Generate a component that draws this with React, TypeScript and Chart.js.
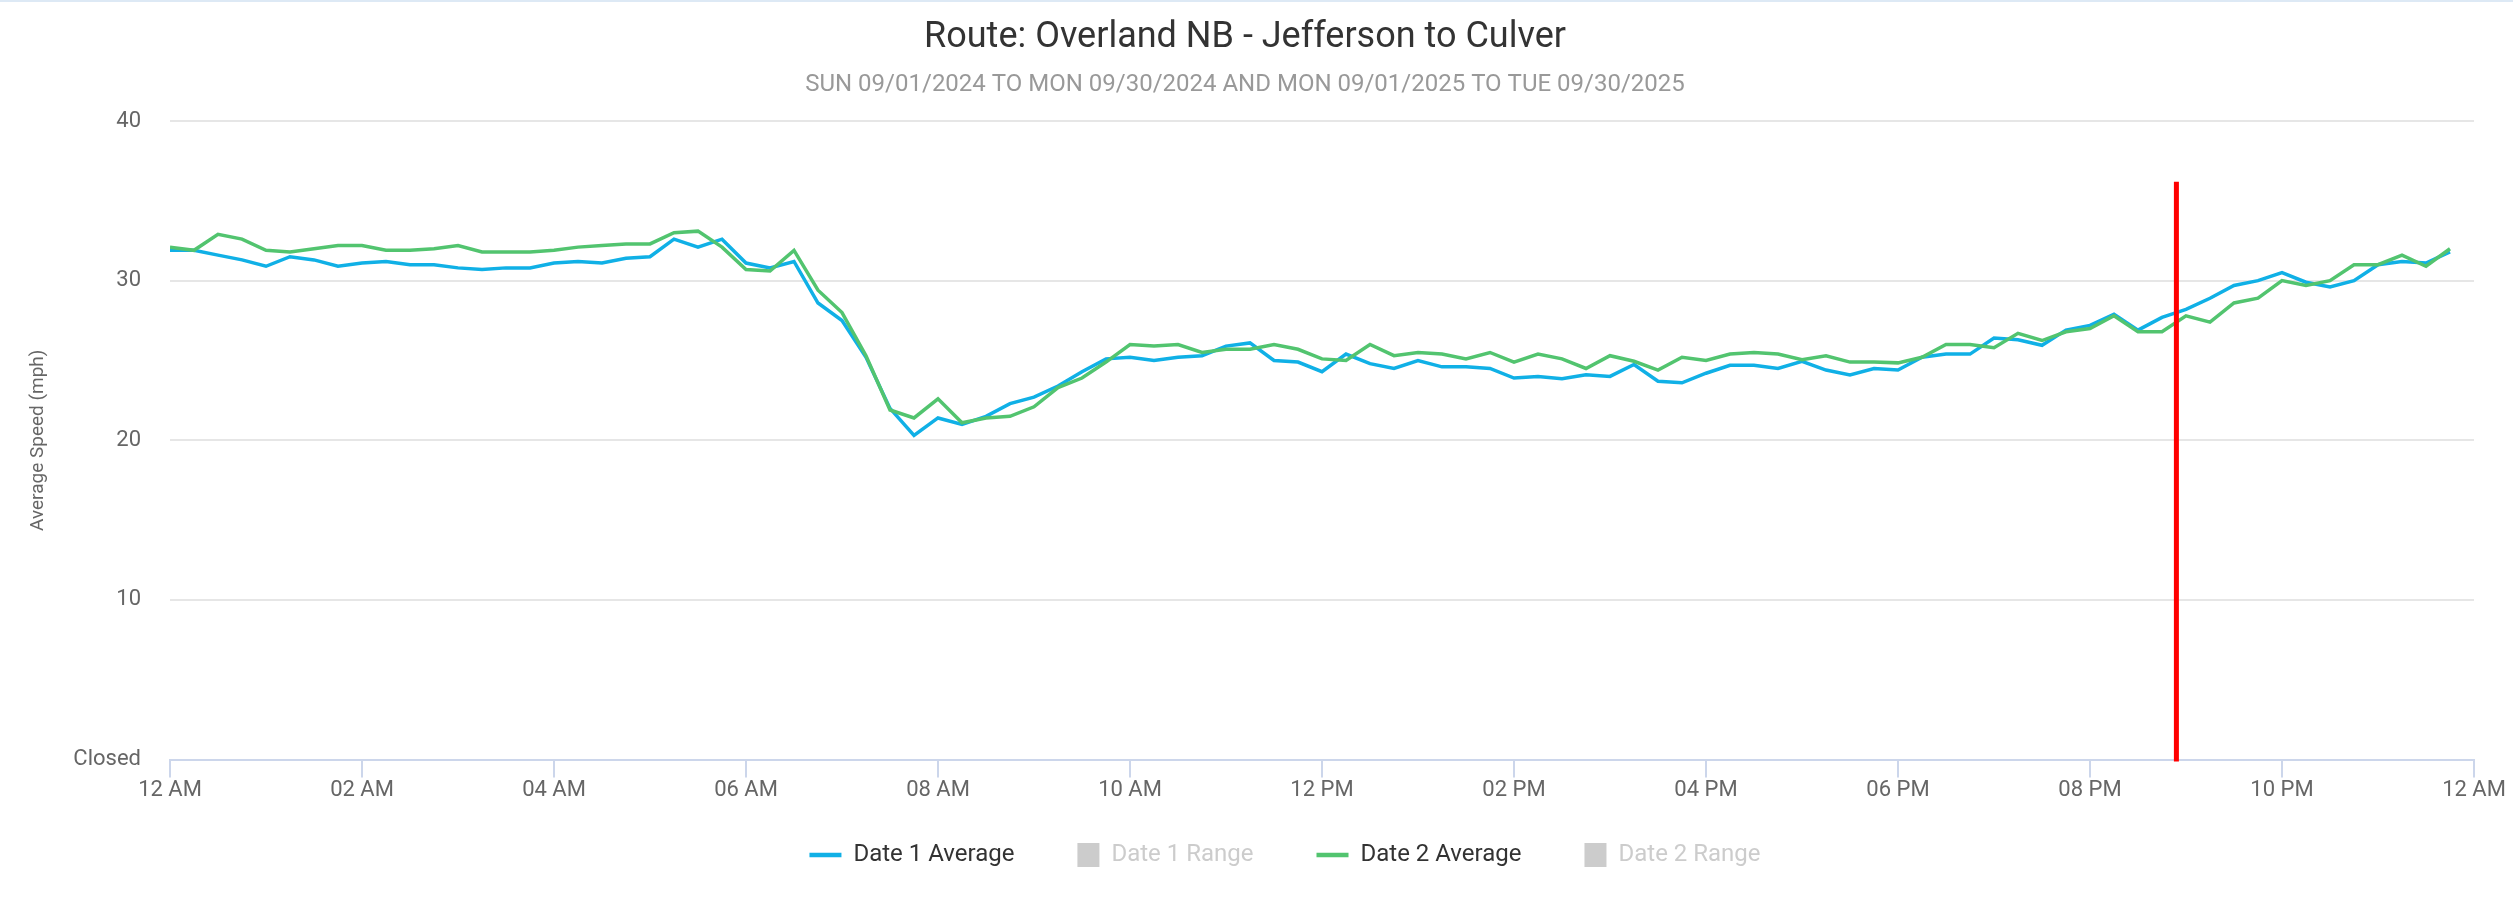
import React, { useEffect, useRef } from "react";
import { Chart, registerables } from "chart.js";

Chart.register(...registerables);

const chartTitle = "Route: Overland NB - Jefferson to Culver";
const chartSubtitle =
  "SUN 09/01/2024 TO MON 09/30/2024 AND MON 09/01/2025 TO TUE 09/30/2025";
const yAxisTitle = "Average Speed (mph)";

const seriesNames = ["Date 1 Average", "Date 1 Range", "Date 2 Average", "Date 2 Range"];

// one value every 15 minutes, 00:00 .. 23:45
const intervalHours = 0.25;

const date1Average = [
  31.9, 31.9, 31.6, 31.3, 30.9, 31.5, 31.3, 30.9, 31.1, 31.2, 31.0, 31.0,
  30.8, 30.7, 30.8, 30.8, 31.1, 31.2, 31.1, 31.4, 31.5, 32.6, 32.1, 32.6,
  31.1, 30.8, 31.2, 28.6, 27.5, 25.2, 22.0, 20.3, 21.4, 21.0, 21.5, 22.3,
  22.7, 23.4, 24.3, 25.1, 25.2, 25.0, 25.2, 25.3, 25.9, 26.1, 25.0, 24.9,
  24.3, 25.4, 24.8, 24.5, 25.0, 24.6, 24.6, 24.5, 23.9, 24.0, 23.85, 24.1,
  24.0, 24.75, 23.7, 23.6, 24.2, 24.7, 24.7, 24.5, 24.95, 24.4, 24.1, 24.5,
  24.4, 25.2, 25.4, 25.4, 26.4, 26.3, 25.95, 26.9, 27.2, 27.9, 26.9, 27.7,
  28.2, 28.9, 29.7, 30.0, 30.5, 29.9, 29.6, 30.0, 31.0, 31.2, 31.1, 31.8,
];

const date2Average = [
  32.1, 31.9, 32.9, 32.6, 31.9, 31.8, 32.0, 32.2, 32.2, 31.9, 31.9, 32.0,
  32.2, 31.8, 31.8, 31.8, 31.9, 32.1, 32.2, 32.3, 32.3, 33.0, 33.1, 32.1,
  30.7, 30.6, 31.9, 29.4, 28.0, 25.3, 21.9, 21.4, 22.6, 21.1, 21.4, 21.5,
  22.1, 23.3, 23.9, 24.9, 26.0, 25.9, 26.0, 25.5, 25.7, 25.7, 26.0, 25.7,
  25.1, 25.0, 26.0, 25.3, 25.5, 25.4, 25.1, 25.5, 24.9, 25.4, 25.1, 24.5,
  25.3, 24.95, 24.4, 25.2, 25.0, 25.4, 25.5, 25.4, 25.05, 25.3, 24.9, 24.9,
  24.85, 25.2, 26.0, 26.0, 25.8, 26.7, 26.25, 26.8, 27.0, 27.8, 26.8, 26.8,
  27.8, 27.4, 28.6, 28.9, 30.0, 29.7, 30.0, 31.0, 31.0, 31.6, 30.9, 32.0,
];

// range series are switched off in the legend: no values shown
const date1Range: number[] = [];
const date2Range: number[] = [];

const xTickLabels = [
  "12 AM", "02 AM", "04 AM", "06 AM", "08 AM", "10 AM", "12 PM",
  "02 PM", "04 PM", "06 PM", "08 PM", "10 PM", "12 AM",
];
const yTickLabels = ["Closed", "10", "20", "30", "40"];

// current-time marker (hours since midnight) and its top value
const markerHour = 20.9;
const markerTop = 36.2;

const FONT = "Roboto";

const toPoints = (values: number[]) =>
  values.map((v, i) => ({ x: i * intervalHours, y: v }));

const legendPlugin = {
  id: "speedLegend",
  afterDraw(chart: any, _args: any, opts: any) {
    const { ctx } = chart;
    ctx.save();
    ctx.font = `${opts.fontSize}px ${FONT}`;
    ctx.textBaseline = "middle";
    const items = chart.data.datasets.map((ds: any) => {
      const isBox = ds.legendSymbol === "box";
      const symbolW = isBox ? opts.boxWidth : opts.lineLength;
      return { ds, isBox, symbolW, textW: ctx.measureText(ds.label).width };
    });
    const total =
      items.reduce((s: number, it: any) => s + it.symbolW + opts.symbolGap + it.textW, 0) +
      opts.itemGap * (items.length - 1);
    let x = opts.centerX - total / 2;
    const y = opts.centerY;
    items.forEach((it: any) => {
      if (it.isBox) {
        ctx.fillStyle = opts.inactiveColor;
        ctx.fillRect(x, y - opts.boxHeight / 2, it.symbolW, opts.boxHeight);
      } else {
        ctx.strokeStyle = it.ds.borderColor;
        ctx.lineWidth = opts.lineWidth;
        ctx.beginPath();
        ctx.moveTo(x, y);
        ctx.lineTo(x + it.symbolW, y);
        ctx.stroke();
      }
      x += it.symbolW + opts.symbolGap;
      ctx.fillStyle = it.ds.hidden ? opts.inactiveColor : opts.activeColor;
      ctx.textAlign = "left";
      ctx.fillText(it.ds.label, x, y);
      x += it.textW + opts.itemGap;
    });
    ctx.restore();
  },
};

const markerPlugin = {
  id: "timeMarker",
  afterDraw(chart: any, _args: any, opts: any) {
    const { ctx, scales } = chart;
    const x = scales.x.getPixelForValue(opts.hour);
    const top = scales.y.getPixelForValue(opts.top);
    const bottom = scales.y.getPixelForValue(0) + 2;
    ctx.save();
    ctx.strokeStyle = opts.color;
    ctx.lineWidth = opts.width;
    ctx.beginPath();
    ctx.moveTo(x, top);
    ctx.lineTo(x, bottom);
    ctx.stroke();
    ctx.restore();
  },
};

export default function App() {
  const canvasRef = useRef<HTMLCanvasElement | null>(null);

  useEffect(() => {
    document.body.style.margin = "0";
    const canvas = canvasRef.current;
    if (!canvas) return;
    const chart = new Chart(canvas, {
      type: "line",
      data: {
        datasets: [
          {
            label: seriesNames[0],
            data: toPoints(date1Average),
            borderColor: "#10b0e6",
            backgroundColor: "#10b0e6",
            borderWidth: 3.5,
            pointRadius: 0,
            tension: 0,
            order: 1,
            legendSymbol: "line",
          } as any,
          {
            label: seriesNames[1],
            data: toPoints(date1Range),
            borderColor: "#cccccc",
            hidden: true,
            pointRadius: 0,
            legendSymbol: "box",
          } as any,
          {
            label: seriesNames[2],
            data: toPoints(date2Average),
            borderColor: "#52c46f",
            backgroundColor: "#52c46f",
            borderWidth: 3.5,
            pointRadius: 0,
            tension: 0,
            order: 0,
            legendSymbol: "line",
          } as any,
          {
            label: seriesNames[3],
            data: toPoints(date2Range),
            borderColor: "#cccccc",
            hidden: true,
            pointRadius: 0,
            legendSymbol: "box",
          } as any,
        ],
      },
      options: {
        animation: false,
        responsive: false,
        devicePixelRatio: 1,
        layout: {
          autoPadding: false,
          padding: { left: 16, right: 39, top: 0, bottom: 102 },
        },
        plugins: {
          legend: { display: false },
          tooltip: { enabled: false },
          title: {
            display: true,
            text: chartTitle,
            color: "#333333",
            font: { family: FONT, size: 36, weight: "normal" },
            padding: { top: 16.4, bottom: 0 },
          },
          subtitle: {
            display: true,
            text: chartSubtitle,
            color: "#999999",
            font: { family: FONT, size: 24, weight: "normal" },
            padding: { top: 11, bottom: 21.6 },
          },
          speedLegend: {
            centerX: 1285,
            centerY: 855,
            fontSize: 24,
            lineLength: 32,
            lineWidth: 4.5,
            boxWidth: 22,
            boxHeight: 24,
            symbolGap: 12,
            itemGap: 63,
            activeColor: "#333333",
            inactiveColor: "#cccccc",
          },
          timeMarker: { hour: markerHour, top: markerTop, color: "#ff0000", width: 5 },
        } as any,
        scales: {
          x: {
            type: "linear",
            min: 0,
            max: 24,
            grid: {
              drawOnChartArea: false,
              drawTicks: true,
              tickLength: 18,
              color: "#ccd6eb",
              lineWidth: 2,
            },
            border: { display: true, color: "#ccd6eb", width: 2 },
            ticks: {
              stepSize: 2,
              autoSkip: false,
              maxRotation: 0,
              padding: 0,
              color: "#666666",
              font: { family: FONT, size: 22 },
              callback: (value: any) => xTickLabels[Math.round(Number(value) / 2)],
            },
          },
          y: {
            type: "linear",
            min: 0,
            max: 40,
            grid: { color: "#e6e6e6", lineWidth: 2, drawTicks: false },
            border: { display: false },
            ticks: {
              stepSize: 10,
              padding: 29,
              color: "#666666",
              font: { family: FONT, size: 22 },
              callback: (value: any) => yTickLabels[Math.round(Number(value) / 10)],
            },
            title: {
              display: true,
              text: yAxisTitle,
              color: "#666666",
              font: { family: FONT, size: 19 },
              padding: { top: 10.6, bottom: 0 },
            },
            afterFit: (scale: any) => {
              scale.width = 154;
            },
          },
        },
      },
      plugins: [legendPlugin, markerPlugin],
    });
    return () => chart.destroy();
  }, []);

  return (
    <div style={{ position: "relative", width: 2513, height: 906, background: "#ffffff" }}>
      <div
        style={{
          position: "absolute",
          top: 0,
          left: 0,
          width: 2513,
          height: 2,
          background: "#dde9f5",
        }}
      />
      <canvas ref={canvasRef} width={2513} height={906} style={{ display: "block" }} />
    </div>
  );
}
